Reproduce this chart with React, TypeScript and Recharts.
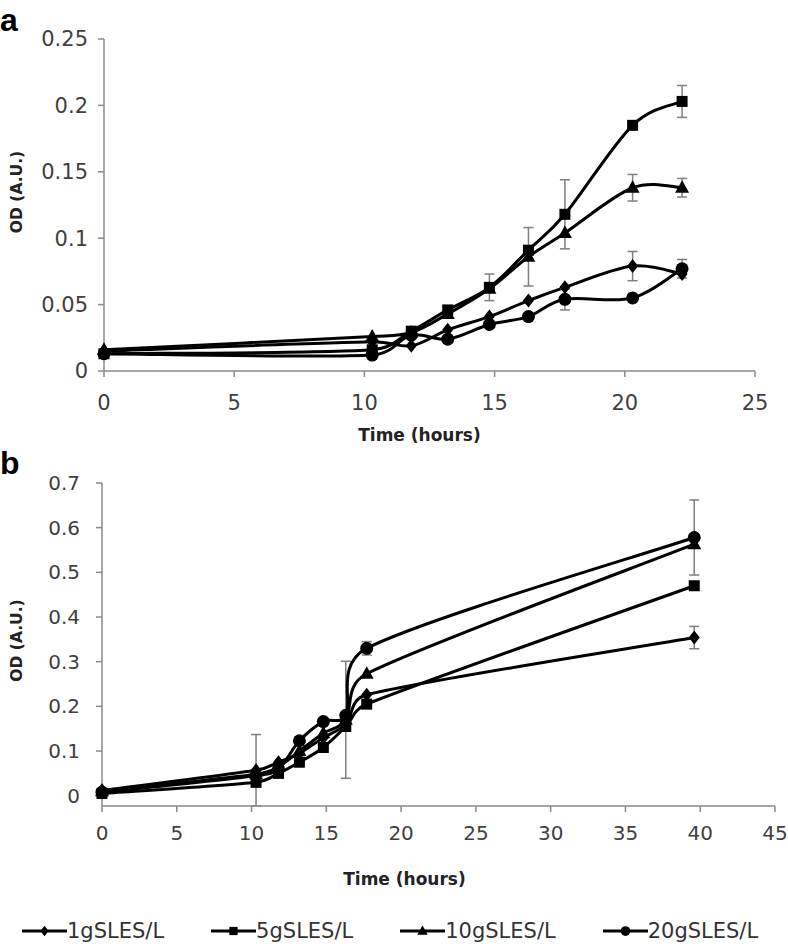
import React from "react";
import { LineChart, Line, XAxis, YAxis, ErrorBar, Label } from "recharts";

// panel a (first ~22 h)
const hoursA = [0, 10.3, 11.8, 13.2, 14.8, 16.3, 17.7, 20.3, 22.2];
const od1gA = [0.015, 0.022, 0.019, 0.031, 0.041, 0.053, 0.063, 0.079, 0.073];
const od5gA = [0.013, 0.016, 0.03, 0.046, 0.063, 0.091, 0.118, 0.185, 0.203];
const od10gA = [0.016, 0.026, 0.029, 0.043, 0.062, 0.086, 0.104, 0.138, 0.138];
const od20gA = [0.013, 0.012, 0.027, 0.024, 0.035, 0.041, 0.054, 0.055, 0.077];
const err1gA = [null, null, null, null, null, null, null, 0.011, null];
const err5gA = [null, null, null, null, 0.01, null, 0.026, null, 0.012];
const err10gA = [null, null, null, null, null, 0.022, null, 0.01, 0.007];
const err20gA = [null, null, null, null, null, null, 0.008, null, 0.007];

// panel b (up to ~40 h)
const hoursB = [0, 10.3, 11.8, 13.2, 14.8, 16.3, 17.7, 39.6];
const od1gB = [0.012, 0.057, 0.075, 0.095, 0.13, 0.16, 0.226, 0.354];
const od5gB = [0.005, 0.03, 0.05, 0.075, 0.108, 0.155, 0.205, 0.47];
const od10gB = [0.01, 0.048, 0.065, 0.1, 0.14, 0.17, 0.273, 0.563];
const od20gB = [0.008, 0.045, 0.06, 0.123, 0.166, 0.18, 0.33, 0.578];
const err1gB = [null, 0.08, null, null, null, null, null, 0.025];
const err5gB = [null, null, null, null, null, null, null, null];
const err10gB = [null, null, null, null, null, 0.131, null, null];
const err20gB = [null, null, null, null, null, null, 0.015, 0.084];

const seriesNames = ["1gSLES/L", "5gSLES/L", "10gSLES/L", "20gSLES/L"];
const shapes = ["diamond", "square", "triangle", "circle"];

const ticksA = [0, 5, 10, 15, 20, 25];
const ticksAy = [0, 0.05, 0.1, 0.15, 0.2, 0.25];
const ticksB = [0, 5, 10, 15, 20, 25, 30, 35, 40, 45];
const ticksBy = [0, 0.1, 0.2, 0.3, 0.4, 0.5, 0.6, 0.7];

const build = (hours: number[], od: number[], err: (number | null)[]) =>
  hours.map((t, i) => ({ t, od: od[i], err: err[i] }));

const panelA = [
  build(hoursA, od1gA, err1gA),
  build(hoursA, od5gA, err5gA),
  build(hoursA, od10gA, err10gA),
  build(hoursA, od20gA, err20gA),
];
const panelB = [
  build(hoursB, od1gB, err1gB),
  build(hoursB, od5gB, err5gB),
  build(hoursB, od10gB, err10gB),
  build(hoursB, od20gB, err20gB),
];

const AXIS = "#8a8a8a";

// spreadsheet-style smoothed line: cardinal bezier (1/6 arms), arms kept
// shorter than half of the segment so short segments do not loop
class SmoothCurve {
  ctx: any;
  pts: number[][] = [];
  constructor(ctx: any) {
    this.ctx = ctx;
  }
  areaStart() {}
  areaEnd() {}
  lineStart() {
    this.pts = [];
  }
  point(x: number, y: number) {
    this.pts.push([+x, +y]);
  }
  lineEnd() {
    const p = this.pts;
    const c = this.ctx;
    if (!p.length) return;
    c.moveTo(p[0][0], p[0][1]);
    const arm = (a: number[], b: number[], lim: number) => {
      let dx = (b[0] - a[0]) / 6;
      let dy = (b[1] - a[1]) / 6;
      const len = Math.hypot(dx, dy);
      if (len > lim && len > 0) {
        dx *= lim / len;
        dy *= lim / len;
      }
      return [dx, dy];
    };
    for (let i = 0; i < p.length - 1; i++) {
      const p0 = p[i - 1] || p[i];
      const p1 = p[i];
      const p2 = p[i + 1];
      const p3 = p[i + 2] || p[i + 1];
      const d12 = Math.hypot(p2[0] - p1[0], p2[1] - p1[1]);
      const a1 = arm(p0, p2, d12 / 2);
      const a2 = arm(p1, p3, d12 / 2);
      c.bezierCurveTo(p1[0] + a1[0], p1[1] + a1[1], p2[0] - a2[0], p2[1] - a2[1], p2[0], p2[1]);
    }
  }
}
const smooth = (ctx: any) => new SmoothCurve(ctx);

function Marker({ cx, cy, shape, s = 1 }: any) {
  if (cx == null || cy == null) return null;
  if (shape === "diamond")
    return (
      <path
        d={`M${cx},${cy - 7 * s}L${cx + 5.5 * s},${cy}L${cx},${cy + 7 * s}L${cx - 5.5 * s},${cy}Z`}
        fill="#000"
      />
    );
  if (shape === "square")
    return <rect x={cx - 5.5 * s} y={cy - 5.5 * s} width={11 * s} height={11 * s} fill="#000" />;
  if (shape === "triangle")
    return (
      <path
        d={`M${cx},${cy - 7.5 * s}L${cx + 7 * s},${cy + 5 * s}L${cx - 7 * s},${cy + 5 * s}Z`}
        fill="#000"
      />
    );
  return <circle cx={cx} cy={cy} r={6.5 * s} fill="#000" />;
}

const yTitle = (shift: number) => (props: any) => {
  const vb = props.viewBox || {};
  const x = vb.x + 17;
  const y = vb.y + vb.height / 2 + shift;
  return (
    <text
      x={x}
      y={y}
      transform={`rotate(-90 ${x} ${y})`}
      textAnchor="middle"
      dominantBaseline="central"
      fontFamily="DejaVu Sans"
      fontWeight="bold"
      fontSize={15.5}
      fill="#222"
    >
      OD (A.U.)
    </text>
  );
};

const xTitle = (dx: number, dy: number) => (props: any) => {
  const vb = props.viewBox || {};
  return (
    <text
      x={vb.x + vb.width / 2 + dx}
      y={vb.y + dy}
      textAnchor="middle"
      fontFamily="DejaVu Sans"
      fontWeight="bold"
      fontSize={17}
      fill="#222"
    >
      Time (hours)
    </text>
  );
};

function Panel({
  series,
  domainX,
  ticksX,
  domainY,
  ticksY,
  height,
  margin,
  yWidth,
  xHeight,
  yTickMargin,
  xTickMargin,
  yShift,
  xdx,
  xdy,
  fontSize,
}: any) {
  const tick = { fill: "#404040", fontSize, fontFamily: "DejaVu Sans" };
  return (
    <LineChart width={788} height={height} margin={margin}>
      <XAxis
        type="number"
        dataKey="t"
        domain={domainX}
        ticks={ticksX}
        interval={0}
        height={xHeight}
        stroke={AXIS}
        strokeWidth={1.5}
        tickSize={6}
        tickMargin={xTickMargin}
        tick={tick}
        tickLine={{ stroke: AXIS, strokeWidth: 1.5 }}
      >
        <Label content={xTitle(xdx, xdy)} />
      </XAxis>
      <YAxis
        type="number"
        domain={domainY}
        ticks={ticksY}
        interval={0}
        width={yWidth}
        stroke={AXIS}
        strokeWidth={1.5}
        tickSize={6}
        tickMargin={yTickMargin}
        tick={tick}
        tickLine={{ stroke: AXIS, strokeWidth: 1.5 }}
      >
        <Label content={yTitle(yShift)} />
      </YAxis>
      {series.map((data: any[], i: number) => (
        <Line
          key={seriesNames[i]}
          name={seriesNames[i]}
          data={data}
          dataKey="od"
          type={smooth as any}
          stroke="#000"
          strokeWidth={3}
          isAnimationActive={false}
          activeDot={false}
          dot={(p: any) => (
            <Marker key={`${seriesNames[i]}-${p.index}`} cx={p.cx} cy={p.cy} shape={shapes[i]} />
          )}
        >
          <ErrorBar dataKey="err" direction="y" width={5} stroke="#7f7f7f" strokeWidth={1.5} />
        </Line>
      ))}
    </LineChart>
  );
}

function LegendRow() {
  return (
    <div
      style={{
        position: "absolute",
        top: 921,
        left: 22,
        display: "flex",
        alignItems: "center",
        height: 20,
        lineHeight: "20px",
        fontFamily: "DejaVu Sans",
        fontSize: 21,
        color: "#333",
        whiteSpace: "nowrap",
      }}
    >
      {seriesNames.map((n, i) => (
        <div key={n} style={{ display: "flex", alignItems: "center", marginRight: 47 }}>
          <svg width={45} height={20}>
            <line x1={0} y1={10} x2={45} y2={10} stroke="#000" strokeWidth={3} />
            <Marker cx={22.5} cy={10} shape={shapes[i]} s={0.75} />
          </svg>
          <span>{n}</span>
        </div>
      ))}
    </div>
  );
}

export default function App() {
  const letter: React.CSSProperties = {
    position: "absolute",
    left: 0,
    fontFamily: "Liberation Sans",
    fontWeight: "bold",
    fontSize: 32,
    lineHeight: "36px",
  };
  return (
    <div style={{ position: "relative", width: 788, height: 946, background: "#fff", overflow: "hidden" }}>
      <style>{`body{margin:0;background:#fff}`}</style>
      <div style={{ ...letter, top: 2 }}>a</div>
      <div style={{ ...letter, top: 445 }}>b</div>
      <div style={{ position: "absolute", left: 0, top: 0 }}>
        <Panel
          series={panelA}
          domainX={[0, 25]}
          ticksX={ticksA}
          domainY={[0, 0.25]}
          ticksY={ticksAy}
          height={450}
          margin={{ top: 39, right: 33, left: 0, bottom: 0 }}
          yWidth={104}
          xHeight={79}
          yTickMargin={10}
          xTickMargin={18}
          yShift={-13}
          xdx={-10}
          xdy={70}
          fontSize={21}
        />
      </div>
      <div style={{ position: "absolute", left: 0, top: 440 }}>
        <Panel
          series={panelB}
          domainX={[0, 45]}
          ticksX={ticksB}
          domainY={[0, 0.7]}
          ticksY={ticksBy}
          height={450}
          margin={{ top: 43, right: 13, left: 0, bottom: 0 }}
          yWidth={102}
          xHeight={84}
          yTickMargin={16}
          xTickMargin={14}
          yShift={-4}
          xdx={-34}
          xdy={79}
          fontSize={20}
        />
      </div>
      <LegendRow />
    </div>
  );
}
